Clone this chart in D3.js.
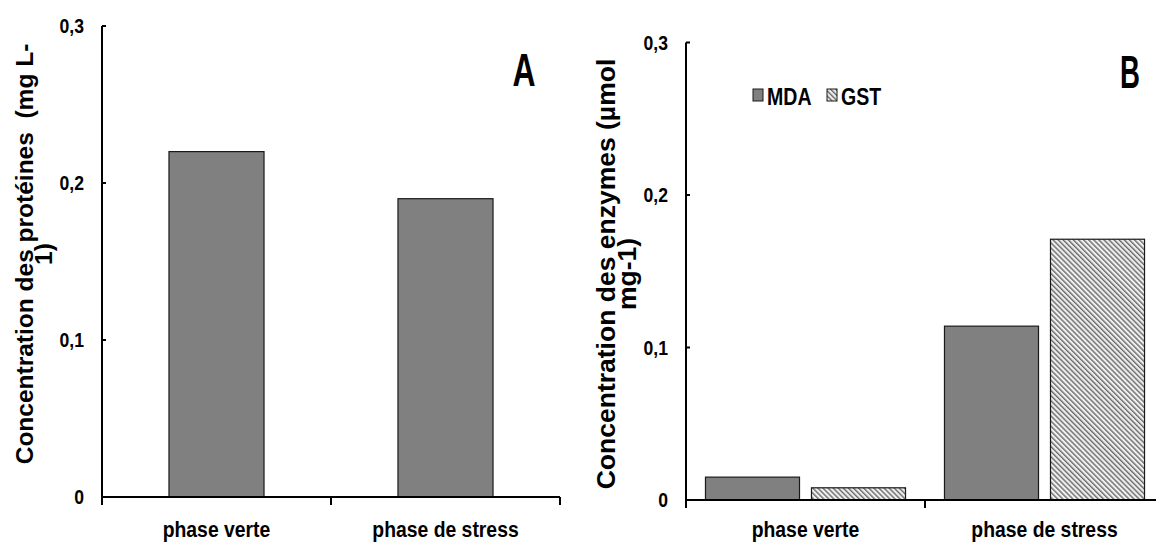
<!DOCTYPE html>
<html>
<head>
<meta charset="utf-8">
<script src="https://cdn.jsdelivr.net/npm/d3@7"></script>
<style>
  body { margin: 0; background: #fff; }
  svg { display: block; }
  text { font-family: "Liberation Sans", Arial, sans-serif; font-weight: bold; fill: #000; }
  .ytitle { white-space: pre; }
</style>
</head>
<body>
<div id="chart"></div>
<script>
// panel A : protein concentration
const phases = ["phase verte", "phase de stress"];
const proteinValues = [0.22, 0.19];

// panel B : enzymes
const enzymeKeys = ["MDA", "GST"];
const mdaValues = [0.015, 0.114];
const gstValues = [0.008, 0.171];

const yTicks = [0, 0.1, 0.2, 0.3];
const fmt = d => d === 0 ? "0" : d3.format(".1f")(d).replace(".", ",");

const svg = d3.select("#chart").append("svg")
  .attr("width", 1156)
  .attr("height", 543);

// hatch pattern for GST
const defs = svg.append("defs");
const pat = defs.append("pattern")
  .attr("id", "hatch")
  .attr("patternUnits", "userSpaceOnUse")
  .attr("width", 3.6)
  .attr("height", 3.6)
  .attr("patternTransform", "rotate(-45)");
pat.append("rect").attr("width", 3.6).attr("height", 3.6).attr("fill", "#f0f0f0");
pat.append("rect").attr("width", 1.4).attr("height", 3.6).attr("fill", "#6a6a6a");

const barFill = "#808080";
const barStroke = "#1a1a1a";

// Arial Narrow look: bold sans squeezed horizontally
function narrowText(sel, x, y, size, sx) {
  return sel.attr("transform", (d, i) => {
      const xx = typeof x === "function" ? x(d, i) : x;
      const yy = typeof y === "function" ? y(d, i) : y;
      return `translate(${xx},${yy}) scale(${sx},1)`;
    })
    .attr("font-size", size);
}

function drawYAxis(g, y, x0, tickLabelGap) {
  g.append("line")
    .attr("x1", x0).attr("x2", x0)
    .attr("y1", y(0.3)).attr("y2", y(0) + 7)
    .attr("stroke", "#000").attr("stroke-width", 2);
  g.selectAll(".yt").data(yTicks).enter().append("line")
    .attr("x1", x0).attr("x2", x0 + 4)
    .attr("y1", d => y(d)).attr("y2", d => y(d))
    .attr("stroke", "#000").attr("stroke-width", 2);
  g.selectAll(".yl").data(yTicks).enter().append("text")
    .attr("dy", "0.36em")
    .attr("text-anchor", "end")
    .call(narrowText, x0 - tickLabelGap, d => y(d), 20, 0.88)
    .text(fmt);
}

function drawXAxis(g, x, yBase, tickLen) {
  const r = x.range();
  const step = x.step();
  g.append("line")
    .attr("x1", r[0]).attr("x2", r[1])
    .attr("y1", yBase).attr("y2", yBase)
    .attr("stroke", "#000").attr("stroke-width", 2);
  // category separators at band edges
  g.selectAll(".xt").data(d3.range(phases.length + 1)).enter().append("line")
    .attr("x1", i => r[0] + i * step).attr("x2", i => r[0] + i * step)
    .attr("y1", yBase).attr("y2", yBase + tickLen)
    .attr("stroke", "#000").attr("stroke-width", 2);
  g.selectAll(".xl").data(phases).enter().append("text")
    .attr("text-anchor", "middle")
    .call(narrowText, d => x(d) + x.bandwidth() / 2, 537, 22, 0.88)
    .text(d => d);
}

// ---------- Panel A ----------
const gA = svg.append("g");
const xA = d3.scaleBand().domain(phases).range([102, 560])
  .paddingInner(0.585).paddingOuter(0.2925);
const yA = d3.scaleLinear().domain([0, 0.3]).range([497, 26]);

gA.selectAll("rect.bar").data(phases).enter().append("rect")
  .attr("class", "bar")
  .attr("x", d => xA(d))
  .attr("y", (d, i) => yA(proteinValues[i]))
  .attr("width", xA.bandwidth())
  .attr("height", (d, i) => yA(0) - yA(proteinValues[i]))
  .attr("fill", barFill)
  .attr("stroke", barStroke)
  .attr("stroke-width", 1.2);

drawYAxis(gA, yA, 102, 18);
drawXAxis(gA, xA, 497, 8);

const tA = gA.append("text")
  .attr("class", "ytitle")
  .attr("font-size", 24.5)
  .attr("text-anchor", "middle")
  .attr("transform", "translate(33,254) rotate(-90)");
tA.append("tspan").attr("x", 0).attr("y", 0).text("Concentration des protéines  (mg L-");
tA.append("tspan").attr("x", 0).attr("y", 19).text("1)");

gA.append("text")
  .attr("text-anchor", "middle")
  .call(narrowText, 524, 86, 47, 0.68)
  .text("A");

// ---------- Panel B ----------
const gB = svg.append("g");
const xB = d3.scaleBand().domain(phases).range([686, 1164])
  .paddingInner(0.163).paddingOuter(0.0815);
const xB1 = d3.scaleBand().domain(enzymeKeys).range([0, xB.bandwidth()])
  .paddingInner(0.113);
const yB = d3.scaleLinear().domain([0, 0.3]).range([500, 42.5]);

const enzymeRows = phases.map((p, i) => ({ phase: p, MDA: mdaValues[i], GST: gstValues[i] }));

gB.selectAll("g.grp").data(enzymeRows).enter().append("g")
  .attr("class", "grp")
  .attr("transform", d => `translate(${xB(d.phase)},0)`)
  .selectAll("rect")
  .data(d => enzymeKeys.map(k => ({ key: k, value: d[k] })))
  .enter().append("rect")
  .attr("x", d => xB1(d.key))
  .attr("y", d => yB(d.value))
  .attr("width", xB1.bandwidth())
  .attr("height", d => yB(0) - yB(d.value))
  .attr("fill", d => d.key === "MDA" ? barFill : "url(#hatch)")
  .attr("stroke", barStroke)
  .attr("stroke-width", 1.2);

drawYAxis(gB, yB, 686, 18);
drawXAxis(gB, xB, 500, 8);

const tB = gB.append("text")
  .attr("class", "ytitle")
  .attr("font-size", 26.5)
  .attr("text-anchor", "middle")
  .attr("transform", "translate(615,274) rotate(-90)");
tB.append("tspan").attr("x", 0).attr("y", 0).text("Concentration des enzymes (µmol");
tB.append("tspan").attr("x", 0).attr("y", 21).text("mg-1)");

gB.append("text")
  .attr("text-anchor", "middle")
  .call(narrowText, 1130, 88, 46, 0.6)
  .text("B");

// legend
const legend = gB.append("g").attr("transform", "translate(753,89)");
const legX = [0, 74];
legend.selectAll("rect").data(enzymeKeys).enter().append("rect")
  .attr("x", (d, i) => legX[i]).attr("y", 0)
  .attr("width", 10).attr("height", 12)
  .attr("fill", d => d === "MDA" ? barFill : "url(#hatch)")
  .attr("stroke", barStroke).attr("stroke-width", 1);
legend.selectAll("text").data(enzymeKeys).enter().append("text")
  .call(narrowText, (d, i) => legX[i] + 14, 16, 23, 0.85)
  .text(d => d);
</script>
</body>
</html>
